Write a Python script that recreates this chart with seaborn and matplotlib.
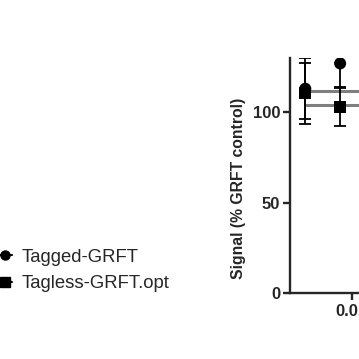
import numpy as np
import pandas as pd
import seaborn as sns
import matplotlib
matplotlib.use("Agg")
import matplotlib.pyplot as plt
from matplotlib.lines import Line2D
from matplotlib.ticker import FixedLocator, FuncFormatter, NullLocator

# data read from the (cropped) reference
conc = [0.0023, 0.0069]
tagged = [113, 127]
tagged_err_lo = [17, 13]
tagged_err_hi = [17, 0]
tagless = [110.5, 103]
tagless_err = [17, 10.5]
fit_x = [0.0023, 20]
fit_tagged = [112, 112]
fit_tagless = [104, 104]
labels = ["Tagged-GRFT", "Tagless-GRFT.opt"]

sns.set_style("ticks")
plt.rcParams["font.family"] = ["Liberation Sans", "DejaVu Sans"]

fig = plt.figure(figsize=(3.59, 3.59), dpi=100)
ax = fig.add_axes([290 / 359, 66 / 359, 303 / 359, 235 / 359])

fits = pd.DataFrame({
    "x": fit_x * 2,
    "y": fit_tagged + fit_tagless,
    "grp": [labels[0]] * 2 + [labels[1]] * 2,
})
sns.lineplot(data=fits, x="x", y="y", hue="grp", palette=["#7f7f7f", "#7f7f7f"],
             linewidth=2.2, legend=False, ax=ax, zorder=1)

ax.errorbar(conc, tagged, yerr=[tagged_err_lo, tagged_err_hi], fmt="none",
            ecolor="black", elinewidth=1.3, capsize=4, capthick=1.3, zorder=2)
ax.errorbar(conc, tagless, yerr=tagless_err, fmt="none",
            ecolor="black", elinewidth=1.3, capsize=4, capthick=1.3, zorder=2)

pts = pd.DataFrame({
    "x": conc * 2,
    "y": tagged + tagless,
    "grp": [labels[0]] * 2 + [labels[1]] * 2,
})
sns.scatterplot(data=pts, x="x", y="y", hue="grp", style="grp",
                markers={labels[0]: "o", labels[1]: "s"},
                palette=["black", "black"], s=75, edgecolor="none",
                legend=False, ax=ax, zorder=3)

ax.set_xscale("log")
ax.set_xlim(0.00142, 20)
ax.set_ylim(0, 130)
ax.xaxis.set_major_locator(FixedLocator([0.01, 0.1, 1, 10]))
ax.xaxis.set_minor_locator(NullLocator())
ax.xaxis.set_major_formatter(FuncFormatter(lambda v, p: f"{v:g}"))
ax.set_yticks([0, 50, 100])

for side in ["top", "right"]:
    ax.spines[side].set_visible(False)
for side in ["left", "bottom"]:
    ax.spines[side].set_linewidth(1.7)
ax.tick_params(width=1.7, length=5, labelsize=12, pad=2)
ax.tick_params(axis="x", pad=3)
for t in ax.get_xticklabels() + ax.get_yticklabels():
    t.set_fontweight("bold")

ax.set_xlabel("")
ax.set_ylabel("Signal (% GRFT control)", fontsize=11.3, fontweight="bold")
ax.yaxis.set_label_coords(-0.145, 0.447)

handles = [
    Line2D([], [], color="black", marker="o", markersize=6.5, linewidth=1.5),
    Line2D([], [], color="black", marker="s", markersize=6.5, linewidth=1.5),
]
fig.legend(handles, labels, loc="center left", bbox_to_anchor=(-1 / 359, 0.246),
           frameon=False, fontsize=13.3, handlelength=0.7, handletextpad=0.5,
           borderpad=0, borderaxespad=0, labelspacing=0.52)

fig.savefig("out.png", dpi=100)
